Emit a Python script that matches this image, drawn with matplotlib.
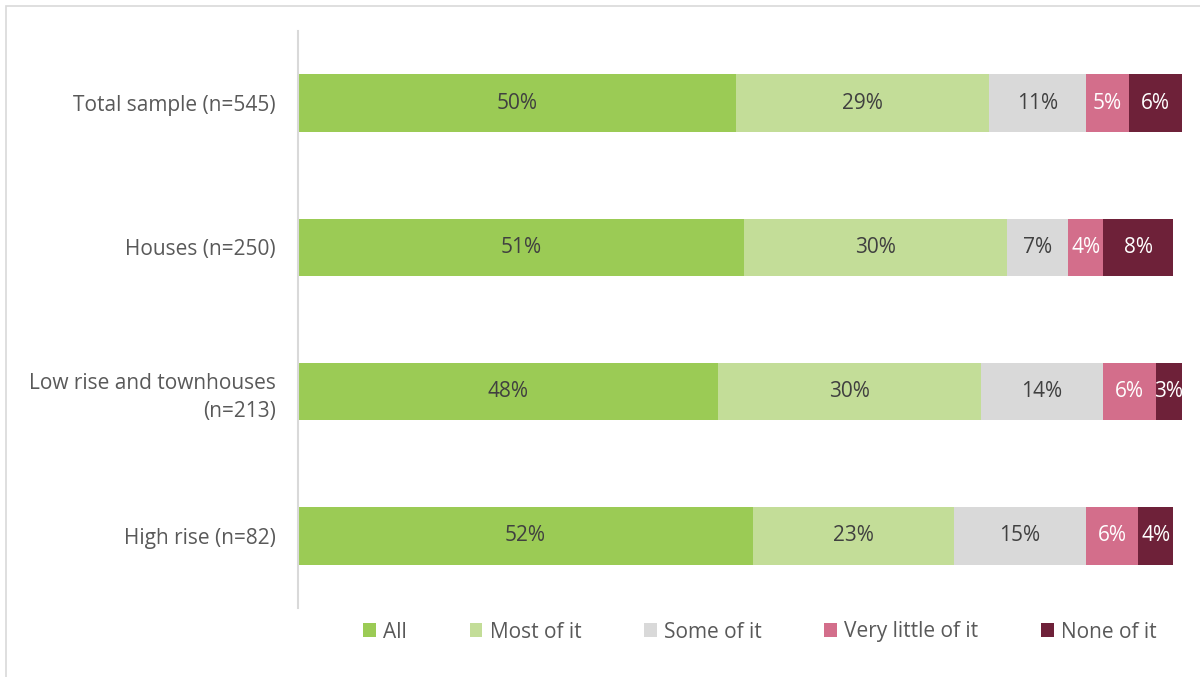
import matplotlib.pyplot as plt
from matplotlib.patches import Rectangle

plt.rcParams['font.family'] = ['Open Sans', 'DejaVu Sans']

groups = ["Total sample (n=545)", "Houses (n=250)",
          "Low rise and townhouses\n(n=213)", "High rise (n=82)"]
responses = ["All", "Most of it", "Some of it", "Very little of it", "None of it"]

all_ = [50, 51, 48, 52]
most = [29, 30, 30, 23]
some = [11, 7, 14, 15]
very_little = [5, 4, 6, 6]
none = [6, 8, 3, 4]

colors = ["#9BCB55", "#C3DD98", "#D9D9D9", "#D36E8B", "#6E2139"]
text_colors = ["#404040", "#404040", "#404040", "white", "white"]
fs = 15

fig = plt.figure(figsize=(12, 6.77), dpi=100)
ax = fig.add_axes([298 / 1200, 1 - 608 / 677, (1182 - 298) / 1200, (608 - 31) / 677])

# outer chart border
fig.patches.append(Rectangle((6 / 1200, -0.1), 1.2, 1 - 6 / 677 + 0.1,
                             transform=fig.transFigure, fill=False,
                             edgecolor="#D9D9D9", linewidth=1.2))

y = list(range(len(groups)))
left = [0] * len(groups)
for vals, name, c, tc in zip([all_, most, some, very_little, none],
                             responses, colors, text_colors):
    bars = ax.barh(y, vals, left=left, height=0.4, color=c, label=name)
    for b, v in zip(bars, vals):
        ax.text(b.get_x() + b.get_width() / 2, b.get_y() + b.get_height() / 2,
                "%d%%" % v, ha="center", va="center", color=tc, fontsize=fs)
    left = [l + v for l, v in zip(left, vals)]

ax.set_xlim(0, 101)
ax.set_ylim(3.5, -0.5)
ax.set_yticks(y)
ax.set_yticklabels(groups, fontsize=fs, color="#595959", ha="right",
                   multialignment="right", linespacing=1.45)
ax.tick_params(axis="y", length=0, pad=16)
ax.set_xticks([])
for s in ["top", "right", "bottom"]:
    ax.spines[s].set_visible(False)
ax.spines["left"].set_color("#D9D9D9")
ax.spines["left"].set_linewidth(1.5)

leg = fig.legend(loc="center", bbox_to_anchor=(760 / 1200, 1 - 632 / 677),
                 ncol=5, frameon=False, fontsize=fs, handlelength=0.62,
                 handleheight=0.62, handletextpad=0.35, columnspacing=3.0)
for t in leg.get_texts():
    t.set_color("#595959")

fig.savefig("out.png")
